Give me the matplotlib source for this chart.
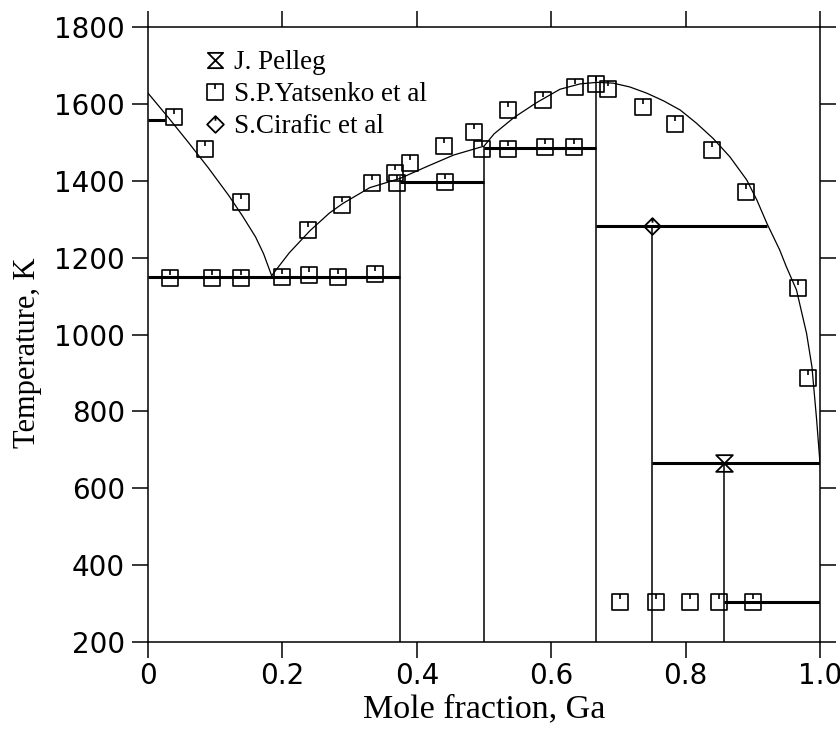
import matplotlib
matplotlib.use("Agg")
import matplotlib.pyplot as plt
from matplotlib.path import Path
from matplotlib.lines import Line2D

# ---- data ----
liq_left_x = [0.0, 0.03, 0.06, 0.09, 0.12, 0.14, 0.16, 0.172, 0.184]
liq_left_T = [1628, 1565, 1500, 1433, 1362, 1310, 1254, 1210, 1153]

liq_right_x = [0.184, 0.21, 0.241, 0.27, 0.29, 0.33, 0.375, 0.415, 0.455, 0.5,
               0.515, 0.545, 0.578, 0.613, 0.643, 0.668, 0.692, 0.717, 0.742,
               0.767, 0.792, 0.816, 0.841, 0.866, 0.891, 0.906, 0.921, 0.94, 0.95,
               0.965, 0.98, 0.988, 0.995, 1.0]
liq_right_T = [1153, 1212, 1270, 1316, 1341, 1382, 1406, 1437, 1467, 1490,
               1522, 1565, 1603, 1638, 1652, 1656, 1654, 1644, 1628,
               1608, 1584, 1550, 1510, 1462, 1402, 1350, 1289, 1220, 1176,
               1116, 1003, 916, 778, 665]

# invariant (horizontal) lines
h_T = [1558, 1149, 1397, 1486, 1281, 665, 303]
h_x0 = [0.0, 0.0, 0.375, 0.5, 0.667, 0.75, 0.857]
h_x1 = [0.025, 0.375, 0.5, 0.667, 0.921, 1.0, 1.0]

# compound (vertical) lines
v_x = [0.375, 0.5, 0.667, 0.75, 0.857]
v_top = [1410, 1488, 1670, 1281, 665]

# experimental points
pelleg_x = [0.857]
pelleg_T = [665]
cirafic_x = [0.75]
cirafic_T = [1281]
yat_x = [0.038, 0.085, 0.138,
         0.032, 0.095, 0.139, 0.199, 0.240, 0.282, 0.338,
         0.238, 0.288, 0.333, 0.368, 0.370, 0.390, 0.440, 0.485, 0.535, 0.588,
         0.635, 0.667, 0.684, 0.737, 0.784, 0.840, 0.890, 0.968, 0.982,
         0.442, 0.497, 0.536, 0.591, 0.634,
         0.703, 0.756, 0.806, 0.849, 0.901]
yat_T = [1567, 1483, 1345,
         1148, 1146, 1146, 1150, 1154, 1149, 1158,
         1271, 1338, 1395, 1420, 1393, 1445, 1490, 1528, 1585, 1610,
         1645, 1651, 1638, 1593, 1548, 1480, 1372, 1120, 887,
         1397, 1482, 1483, 1488, 1489,
         303, 303, 303, 303, 303]

xticks = [0, 0.2, 0.4, 0.6, 0.8, 1.0]
xticklabels = ["0", "0.2", "0.4", "0.6", "0.8", "1.0"]
yticks = [200, 400, 600, 800, 1000, 1200, 1400, 1600, 1800]

# ---- markers ----
sq_tick = Path([(-1, -1), (1, -1), (1, 1), (-1, 1), (-1, -1), (0, 1), (0, 0.35)],
               [Path.MOVETO, Path.LINETO, Path.LINETO, Path.LINETO, Path.CLOSEPOLY,
                Path.MOVETO, Path.LINETO])
hourglass = Path([(-1, 1), (1, 1), (-1, -1), (1, -1), (-1, 1)],
                 [Path.MOVETO, Path.LINETO, Path.LINETO, Path.LINETO, Path.CLOSEPOLY])
diamond_tick = Path([(0, 1), (1, 0), (0, -1), (-1, 0), (0, 1), (0, 1), (0, 0.45)],
                    [Path.MOVETO, Path.LINETO, Path.LINETO, Path.LINETO, Path.CLOSEPOLY,
                     Path.MOVETO, Path.LINETO])

serif = ["Liberation Serif", "DejaVu Serif"]

fig = plt.figure(figsize=(8.4, 7.29), dpi=100)
ax = fig.add_axes([148 / 840, 1 - 642 / 729, 672 / 840, 615 / 729])

ax.plot(liq_left_x, liq_left_T, color="black", lw=0.9, zorder=2)
ax.plot(liq_right_x, liq_right_T, color="black", lw=0.9, zorder=2)

for T, a, b in zip(h_T, h_x0, h_x1):
    ax.plot([a, b], [T, T], color="black", lw=2.2, solid_capstyle="butt", zorder=3)
for x, top in zip(v_x, v_top):
    ax.plot([x, x], [200, top], color="black", lw=1.1, zorder=2)

ax.plot(yat_x, yat_T, ls="none", marker=sq_tick, ms=11.5, mfc="none",
        mec="black", mew=1.2, zorder=4)
ax.plot(pelleg_x, pelleg_T, ls="none", marker=hourglass, ms=12, mfc="none",
        mec="black", mew=1.3, zorder=4)
ax.plot(cirafic_x, cirafic_T, ls="none", marker=diamond_tick, ms=12, mfc="none",
        mec="black", mew=1.3, zorder=4)

ax.set_xlim(0, 1.0)
ax.set_ylim(200, 1800)
ax.set_xticks(xticks)
ax.set_xticklabels(xticklabels)
ax.set_yticks(yticks)
ax.tick_params(direction="out", length=11.5, width=1.1, labelsize=20, pad=5,
               top=True, right=True, labeltop=False, labelright=False)
ax.tick_params(axis="x", pad=3)
for lab in ax.get_xticklabels() + ax.get_yticklabels():
    lab.set_family("DejaVu Sans")
for s in ax.spines.values():
    s.set_linewidth(1.1)

ax.set_xlabel("Mole fraction, Ga", family=serif, fontsize=24.5)
ax.xaxis.set_label_coords(0.5, -0.085)
ax.set_ylabel("Temperature, K", family=serif, fontsize=22)
ax.yaxis.set_label_coords(-0.158, 0.47)

handles = [
    Line2D([], [], ls="none", marker=hourglass, ms=11, mfc="none", mec="black", mew=1.3),
    Line2D([], [], ls="none", marker=sq_tick, ms=11, mfc="none", mec="black", mew=1.2),
    Line2D([], [], ls="none", marker=diamond_tick, ms=12, mfc="none", mec="black", mew=1.3),
]
labels = ["J. Pelleg", "S.P.Yatsenko et al", "S.Cirafic et al"]
ax.legend(handles, labels, loc="upper left", bbox_to_anchor=(0.056, 0.993),
          frameon=False, prop={"family": serif, "size": 19.5},
          handlelength=0.8, handletextpad=0.3, labelspacing=0.26, borderpad=0.2)

fig.savefig("out.png", dpi=100)
